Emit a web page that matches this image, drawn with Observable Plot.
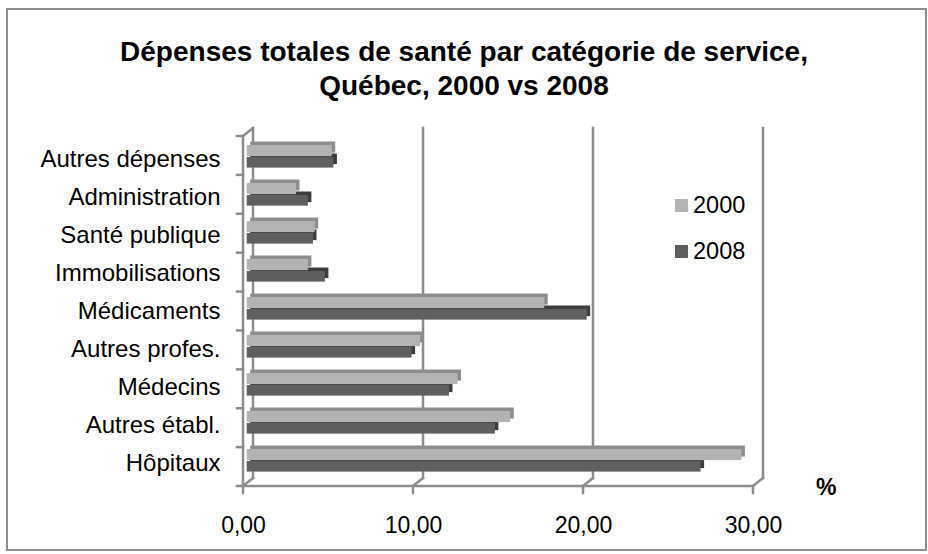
<!DOCTYPE html>
<html>
<head>
<meta charset="utf-8">
<script src="https://cdn.jsdelivr.net/npm/d3@7"></script>
<script src="https://cdn.jsdelivr.net/npm/@observablehq/plot@0.6"></script>
<style>
  html, body { margin: 0; padding: 0; background: #fff; }
  body { width: 928px; height: 554px; position: relative; overflow: hidden;
         font-family: "Liberation Sans", Arial, sans-serif; }
  #frame { position: absolute; left: 6px; top: 8px; width: 917px; height: 539px;
           border: 2px solid #8f8f8f; box-sizing: content-box; }
  #title { position: absolute; left: 0; top: 35px; width: 928px; text-align: center;
           font-weight: bold; font-size: 28px; line-height: 34px; color: #000; }
  #chart { position: absolute; left: 0; top: 110px; }
  #chart g[aria-label^="y-axis"] text { font-size: 24px; }
  .leg { position: absolute; font-size: 23.5px; color: #000; line-height: 23px; }
  .sw { position: absolute; width: 13px; height: 13px; }
  #pct { position: absolute; left: 816px; top: 474px; font-size: 23px; font-weight: bold; }
</style>
</head>
<body>
<div id="frame"></div>
<div id="title">Dépenses totales de santé par catégorie de service,<br>Québec, 2000 vs 2008</div>
<div id="chart"></div>
<div id="legend"></div>
<div id="pct">%</div>
<script>
const categories = ["Autres dépenses", "Administration", "Santé publique", "Immobilisations",
  "Médicaments", "Autres profes.", "Médecins", "Autres établ.", "Hôpitaux"];
const values2000 = [5.0, 2.9, 4.0, 3.6, 17.5, 10.2, 12.4, 15.5, 29.1];
const values2008 = [5.1, 3.6, 3.9, 4.6, 20.0, 9.7, 11.9, 14.6, 26.7];
const years = ["2000", "2008"];
const xTicks = [0, 10, 20, 30];

const frontColors = {"2000": "#b3b3b3", "2008": "#5f5f5f"};
const depthColors = {"2000": "#8e8e8e", "2008": "#3d3d3d"};

const d2000 = categories.map((c, i) => ({cat: c, value: values2000[i], year: "2000"}));
const d2008 = categories.map((c, i) => ({cat: c, value: values2008[i], year: "2008"}));

const DX = 10, DY = -8;     // back-wall offset (3D look)
const BX = 3.7;             // bar front-face offset
const DEPTH = 3.5;          // bar depth

const frameMark = (index, scales, values, dim) => {
  const x = scales.x;
  const top = dim.marginTop, bottom = dim.height - dim.marginBottom;
  const g = d3.create("svg:g").attr("fill", "none").attr("stroke", "#8c8c8c")
    .attr("stroke-width", 2.5).attr("stroke-linecap", "square");
  const line = (x1, y1, x2, y2) => g.append("line")
    .attr("x1", x1).attr("y1", y1).attr("x2", x2).attr("y2", y2);
  for (const v of xTicks) {
    const px = x(v);
    line(px + DX, top + DY, px + DX, bottom + DY);
    line(px, bottom, px + DX, bottom + DY);
    line(px, bottom, px, bottom + 7);
  }
  line(x(0), bottom, x(xTicks[xTicks.length - 1]), bottom);
  line(x(0), top, x(0), bottom);
  line(x(0), top, x(0) + DX, top + DY);
  const n = categories.length, bw = (bottom - top) / n;
  for (let i = 0; i <= n; i++) line(x(0) - 6, top + i * bw, x(0), top + i * bw);
  return g.node();
};

const comma = d => d.toFixed(2).replace(".", ",");

const bandH = 350 / categories.length;
const inset = {"2000": [5, bandH - 17], "2008": [17, bandH - 28.5]};

const barPair = (data, yr) => [
  Plot.barX(data, {y: "cat", x1: 0, x2: "value", fill: depthColors[yr],
    insetTop: inset[yr][0], insetBottom: inset[yr][1], dx: BX + DEPTH, dy: -DEPTH}),
  Plot.barX(data, {y: "cat", x1: 0, x2: "value", fill: frontColors[yr],
    insetTop: inset[yr][0], insetBottom: inset[yr][1], dx: BX})
];

const chart = Plot.plot({
  width: 928,
  height: 444,
  marginTop: 26,
  marginBottom: 68,
  marginLeft: 243,
  marginRight: 175,
  style: {fontFamily: "'Liberation Sans', Arial, sans-serif", fontSize: "23px", color: "#000", background: "transparent", overflow: "visible"},
  x: {domain: [0, 30], ticks: xTicks, tickFormat: comma, tickSize: 0, tickPadding: 30, label: null},
  y: {domain: categories, padding: 0, tickSize: 0, tickPadding: 23, label: null},
  marks: [
    frameMark,
    ...barPair(d2008, "2008"),
    ...barPair(d2000, "2000")
  ]
});
document.getElementById("chart").appendChild(chart);

// legend
const legend = document.getElementById("legend");
const legY = {"2000": 199, "2008": 245};
for (const yr of years) {
  const sw = document.createElement("div");
  sw.className = "sw";
  sw.style.left = "675px"; sw.style.top = legY[yr] + "px";
  sw.style.background = frontColors[yr];
  legend.appendChild(sw);
  const t = document.createElement("div");
  t.className = "leg";
  t.style.left = "693px"; t.style.top = (legY[yr] - 5) + "px";
  t.textContent = yr;
  legend.appendChild(t);
}
</script>
</body>
</html>
